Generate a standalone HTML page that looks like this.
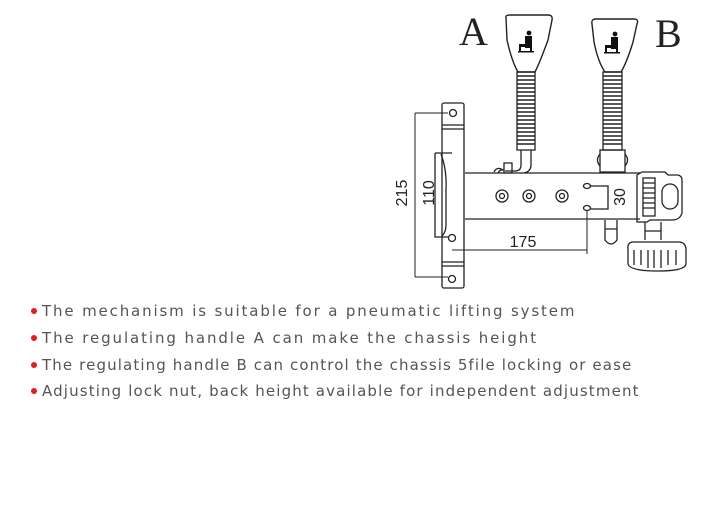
<!DOCTYPE html>
<html><head><style>
body{margin:0;background:#fff;width:720px;height:509px;overflow:hidden;position:relative}
svg{position:absolute;left:0;top:0}
.t{position:absolute;left:31px;font-family:"DejaVu Sans","Liberation Sans",sans-serif;font-size:15px;color:#555;letter-spacing:1px;white-space:nowrap}
.t b{display:inline-block;width:6px;height:6px;border-radius:50%;background:#e02020;margin-right:5px;vertical-align:2px}
</style></head><body>
<svg width="720" height="509" viewBox="0 0 720 509" fill="none" stroke="#222" stroke-width="1.3">
<text x="459" y="45" font-family="Liberation Serif" font-size="40" fill="#222" stroke="none">A</text>
<text x="655" y="47" font-family="Liberation Serif" font-size="40" fill="#222" stroke="none">B</text>
<path d="M506 18 Q505 15 510 15 L548 15 Q553 15 552 20 L548 40 Q540 62 535 72 L518 72 Q512 62 507 40 Z" stroke-width="1.4"/>
<g fill="#111" stroke="none"><circle cx="529" cy="33" r="2.4"/><rect x="525" y="36" width="7" height="12"/><rect x="519" y="44" width="10" height="3"/><rect x="519" y="47" width="2" height="5"/><rect x="530" y="47" width="2" height="5"/><rect x="518" y="51" width="16" height="1.5"/></g>
<rect x="517" y="72" width="18" height="78"/>
<path stroke-width="1.6" d="M517 76H535M517 80H535M517 84H535M517 88H535M517 92H535M517 96H535M517 100H535M517 104H535M517 108H535M517 112H535M517 116H535M517 120H535M517 124H535M517 128H535M517 132H535M517 136H535M517 140H535M517 144H535"/>
<path d="M521 150 V165 Q521 171 515 171 H505 M531 150 V166 Q530 172 524 173 M504 163 H512 V173 H504 Z M503 170 Q497 166 494 172 M498 173 Q500 169 504 170"/>
<path d="M592 24 Q591 19 596 19 L634 19 Q639 19 637 24 L633 42 Q627 62 621 72 L605 72 Q598 62 594 42 Z" stroke-width="1.4"/>
<g fill="#111" stroke="none"><circle cx="615" cy="34" r="2.4"/><rect x="611" y="37" width="7" height="12"/><rect x="605" y="45" width="10" height="3"/><rect x="605" y="48" width="2" height="5"/><rect x="616" y="48" width="2" height="5"/><rect x="604" y="52" width="16" height="1.5"/></g>
<rect x="603" y="72" width="19" height="78"/>
<path stroke-width="1.6" d="M603 76H622M603 80H622M603 84H622M603 88H622M603 92H622M603 96H622M603 100H622M603 104H622M603 108H622M603 112H622M603 116H622M603 120H622M603 124H622M603 128H622M603 132H622M603 136H622M603 140H622M603 144H622"/>
<rect x="600" y="150" width="25" height="22"/>
<path d="M600 154 Q595 160 600 166 M625 154 Q630 160 625 166"/>
<rect x="442" y="103" width="22" height="185" rx="2"/>
<path d="M442 125H464M442 129H464M442 262H464M442 266H464"/>
<circle cx="453" cy="113" r="3.5"/><circle cx="452" cy="238" r="3.5"/><circle cx="452" cy="279" r="3.5"/>
<path d="M435 153 H452 M435 153 V237 H449 M441 154 Q447 170 446 190 L446 225 Q446 232 442 236"/>
<path d="M465 173 H640 M465 219 H640"/>
<circle cx="502" cy="196" r="6"/><circle cx="502" cy="196" r="2.5"/>
<circle cx="529" cy="196" r="6"/><circle cx="529" cy="196" r="2.5"/>
<circle cx="562" cy="196" r="6"/><circle cx="562" cy="196" r="2.5"/>
<ellipse cx="587" cy="186" rx="3.5" ry="2.5"/><ellipse cx="587" cy="208" rx="3.5" ry="2.5"/>
<path d="M591 186 H608 V209 H591"/>
<text transform="translate(625,197) rotate(-90)" text-anchor="middle" font-family="Liberation Sans" font-size="16" fill="#222" stroke="none">30</text>
<path d="M637 175 L642 172 H665 L668 175 H678 Q682 176 682 180 V213 Q680 220 672 220 H650 L647 222 H637 Z"/>
<rect x="643" y="178" width="12" height="38"/>
<path d="M643 183H655M643 188H655M643 193H655M643 198H655M643 203H655M643 208H655"/>
<rect x="662" y="184" width="16" height="25" rx="8"/>
<path d="M605 220 V240 Q611 248 617 240 V220 M605 229 H617"/>
<path d="M645 222 V240 M661 222 V240 M645 231 H661"/>
<path d="M632 242 Q627 243 628 250 V264 Q630 271 658 271 Q685 271 686 264 V250 Q686 243 680 242 Z"/>
<path d="M634 250V265M641 250V265M648 250V268M654 250V268M661 250V268M668 250V265M676 250V265"/>
<path stroke-width="1" d="M415 113 H448 M415 113 V277 M415 277 H448"/>
<text transform="translate(407,193) rotate(-90)" text-anchor="middle" font-family="Liberation Sans" font-size="16" fill="#222" stroke="none">215</text>
<text transform="translate(434,193) rotate(-90)" text-anchor="middle" font-family="Liberation Sans" font-size="16" fill="#222" stroke="none">110</text>
<path stroke-width="1" d="M452 250 H587 M587 210 V254"/>
<text x="523" y="247" text-anchor="middle" font-family="Liberation Sans" font-size="16" fill="#222" stroke="none">175</text>
</svg>
<div class="t" style="top:302px;letter-spacing:1.85px"><b></b>The mechanism is suitable for a pneumatic lifting system</div>
<div class="t" style="top:329px;letter-spacing:1.9px"><b></b>The regulating handle A can make the chassis height</div>
<div class="t" style="top:356px;letter-spacing:1.12px"><b></b>The regulating handle B can control the chassis 5file locking or ease</div>
<div class="t" style="top:382px;letter-spacing:1.14px"><b></b>Adjusting lock nut, back height available for independent adjustment</div>
</body></html>
